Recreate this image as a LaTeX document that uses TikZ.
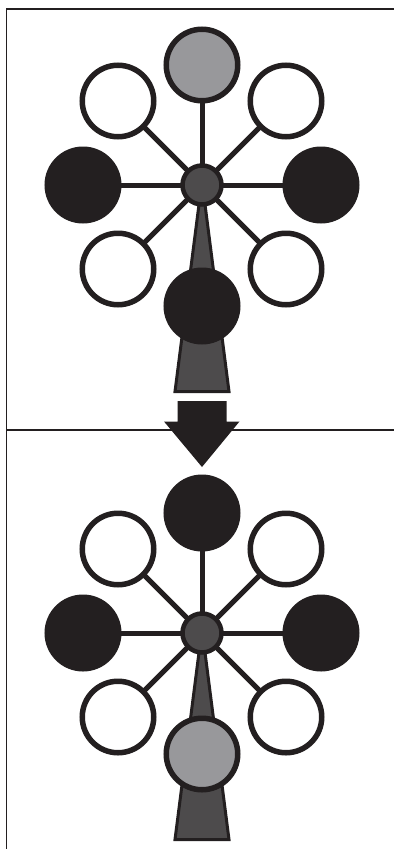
\documentclass[tikz,border=0pt]{standalone}
\usetikzlibrary{calc}
\definecolor{ink}{HTML}{231F20}
\definecolor{midgray}{HTML}{98989B}
\definecolor{hubgray}{HTML}{4D4B4C}
\pgfdeclarelayer{bg}
\pgfsetlayers{bg,main}
\tikzset{
  ball/.style={circle,draw=ink,line width=5.5pt,minimum size=71.5pt,inner sep=0pt},
  whiteball/.style={ball,fill=white},
  blackball/.style={ball,fill=ink},
  grayball/.style={ball,fill=midgray},
  hubnode/.style={circle,draw=ink,fill=hubgray,line width=4.5pt,minimum size=39pt,inner sep=0pt},
  spoke/.style={draw=ink,line width=5pt},
  stem/.style={draw=ink,fill=hubgray,line width=3pt,line join=miter},
  frame/.style={draw=ink,line width=1.1pt},
  bigarrow/.style={fill=ink}
}
\newcommand{\mytree}[4]{%
  \node[hubnode] (#1hub) at (202,#2) {};
  \node[#3] (#1n) at (202,#2-120) {};
  \node[whiteball] (#1nw) at (118,#2-84) {};
  \node[whiteball] (#1ne) at (286,#2-84) {};
  \node[blackball] (#1w) at (83,#2) {};
  \node[blackball] (#1e) at (321,#2) {};
  \node[whiteball] (#1sw) at (118,#2+84) {};
  \node[whiteball] (#1se) at (286,#2+84) {};
  \node[#4] (#1s) at (202,#2+121) {};
  \begin{pgfonlayer}{bg}
    \foreach \t in {n,nw,ne,w,e,sw,se} \draw[spoke] (#1hub.center) -- (#1\t.center);
    \draw[stem] ($(#1hub.center)+(-0.5,0)$) -- ($(#1hub.center)+(-27,206.5)$) -- ($(#1hub.center)+(27,206.5)$) -- ($(#1hub.center)+(0.5,0)$) -- cycle;
  \end{pgfonlayer}
}
\begin{document}
\begin{tikzpicture}[x=1pt,y=-1pt]
  \useasboundingbox (0,0) rectangle (394,849);
  \draw[frame] (6.5,849) -- (6.5,9) -- (394,9);
  \draw[frame] (6.5,430) -- (394,430);
  \mytree{A}{185}{grayball}{blackball}
  \mytree{B}{633}{blackball}{grayball}
  \fill[bigarrow] (177.5,401) -- (226.5,401) -- (226.5,421.5) -- (239.5,421.5) -- (202,467) -- (164,421.5) -- (177.5,421.5) -- cycle;
\end{tikzpicture}
\end{document}
